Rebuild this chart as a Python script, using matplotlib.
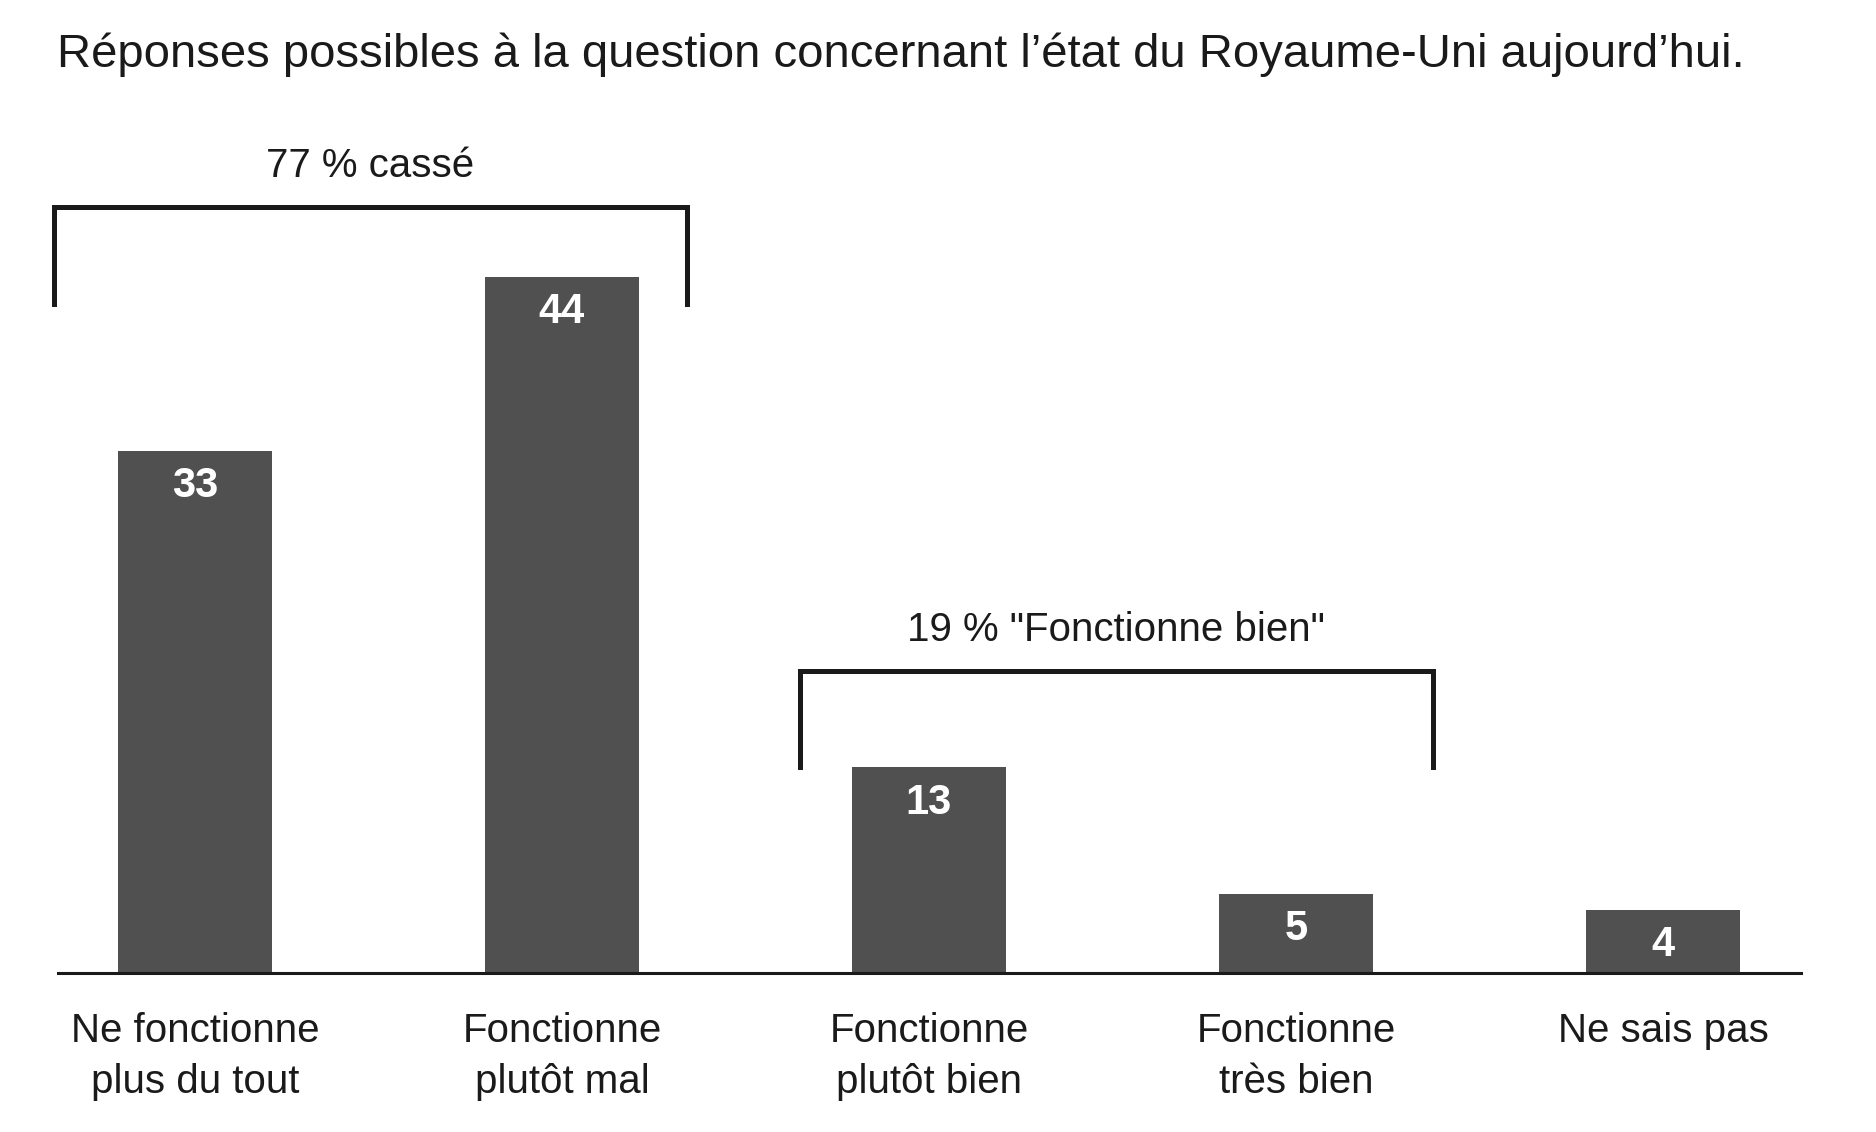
import matplotlib
matplotlib.use("Agg")
import matplotlib.pyplot as plt

categories = ["Ne fonctionne\nplus du tout", "Fonctionne\nplutôt mal",
              "Fonctionne\nplutôt bien", "Fonctionne\ntrès bien", "Ne sais pas"]
values = [33, 44, 13, 5, 4]

group_labels = ["77 % cassé", '19 % "Fonctionne bien"']
group_members = [(0, 1), (2, 3)]
group_levels = [48.4, 19.1]

title = "Réponses possibles à la question concernant l’état du Royaume-Uni aujourd’hui."

plt.rcParams["font.family"] = ["Liberation Sans", "DejaVu Sans"]

bar_color = "#505050"
ink = "#1a1a1a"

fig = plt.figure(figsize=(18.76, 11.32), dpi=100)
ax = fig.add_axes([0.0309, 0.1405, 0.9291, 0.727])

x = list(range(len(values)))
ax.bar(x, values, width=0.42, color=bar_color, zorder=2)

for xi, v in zip(x, values):
    ax.annotate(str(v), (xi, v), xytext=(0, -25.5), textcoords="offset points",
                ha="center", va="center", color="white", fontsize=30,
                fontweight="bold")

# crochets de regroupement (marge gauche / droite par groupe)
pads = [(0.385, 0.34), (0.352, 0.373)]
for (a, b), lvl, lab, (pl, pr) in zip(group_members, group_levels, group_labels, pads):
    left = a - pl
    right = b + pr
    ax.plot([left, left, right, right], [lvl - 6.1, lvl, lvl, lvl - 6.1],
            color=ink, lw=3.6, clip_on=False, solid_joinstyle="miter")
    ax.text((left + right) / 2, lvl + 2.6, lab, ha="center", va="center",
            fontsize=29, color=ink)

ax.set_xlim(-0.373, 4.376)
ax.set_ylim(0, 52)
ax.set_yticks([])
ax.set_xticks(x)
ax.set_xticklabels(categories, fontsize=29, color=ink, linespacing=1.45)
ax.tick_params(axis="x", length=0, pad=28)
for s in ["top", "right", "left"]:
    ax.spines[s].set_visible(False)
ax.spines["bottom"].set_linewidth(2.2)
ax.spines["bottom"].set_color(ink)
ax.spines["bottom"].set_zorder(3)

fig.text(0.0304, 1 - 67 / 1132, title, fontsize=34, color=ink, va="baseline", ha="left")

fig.savefig("out.png", dpi=100, facecolor="white")
